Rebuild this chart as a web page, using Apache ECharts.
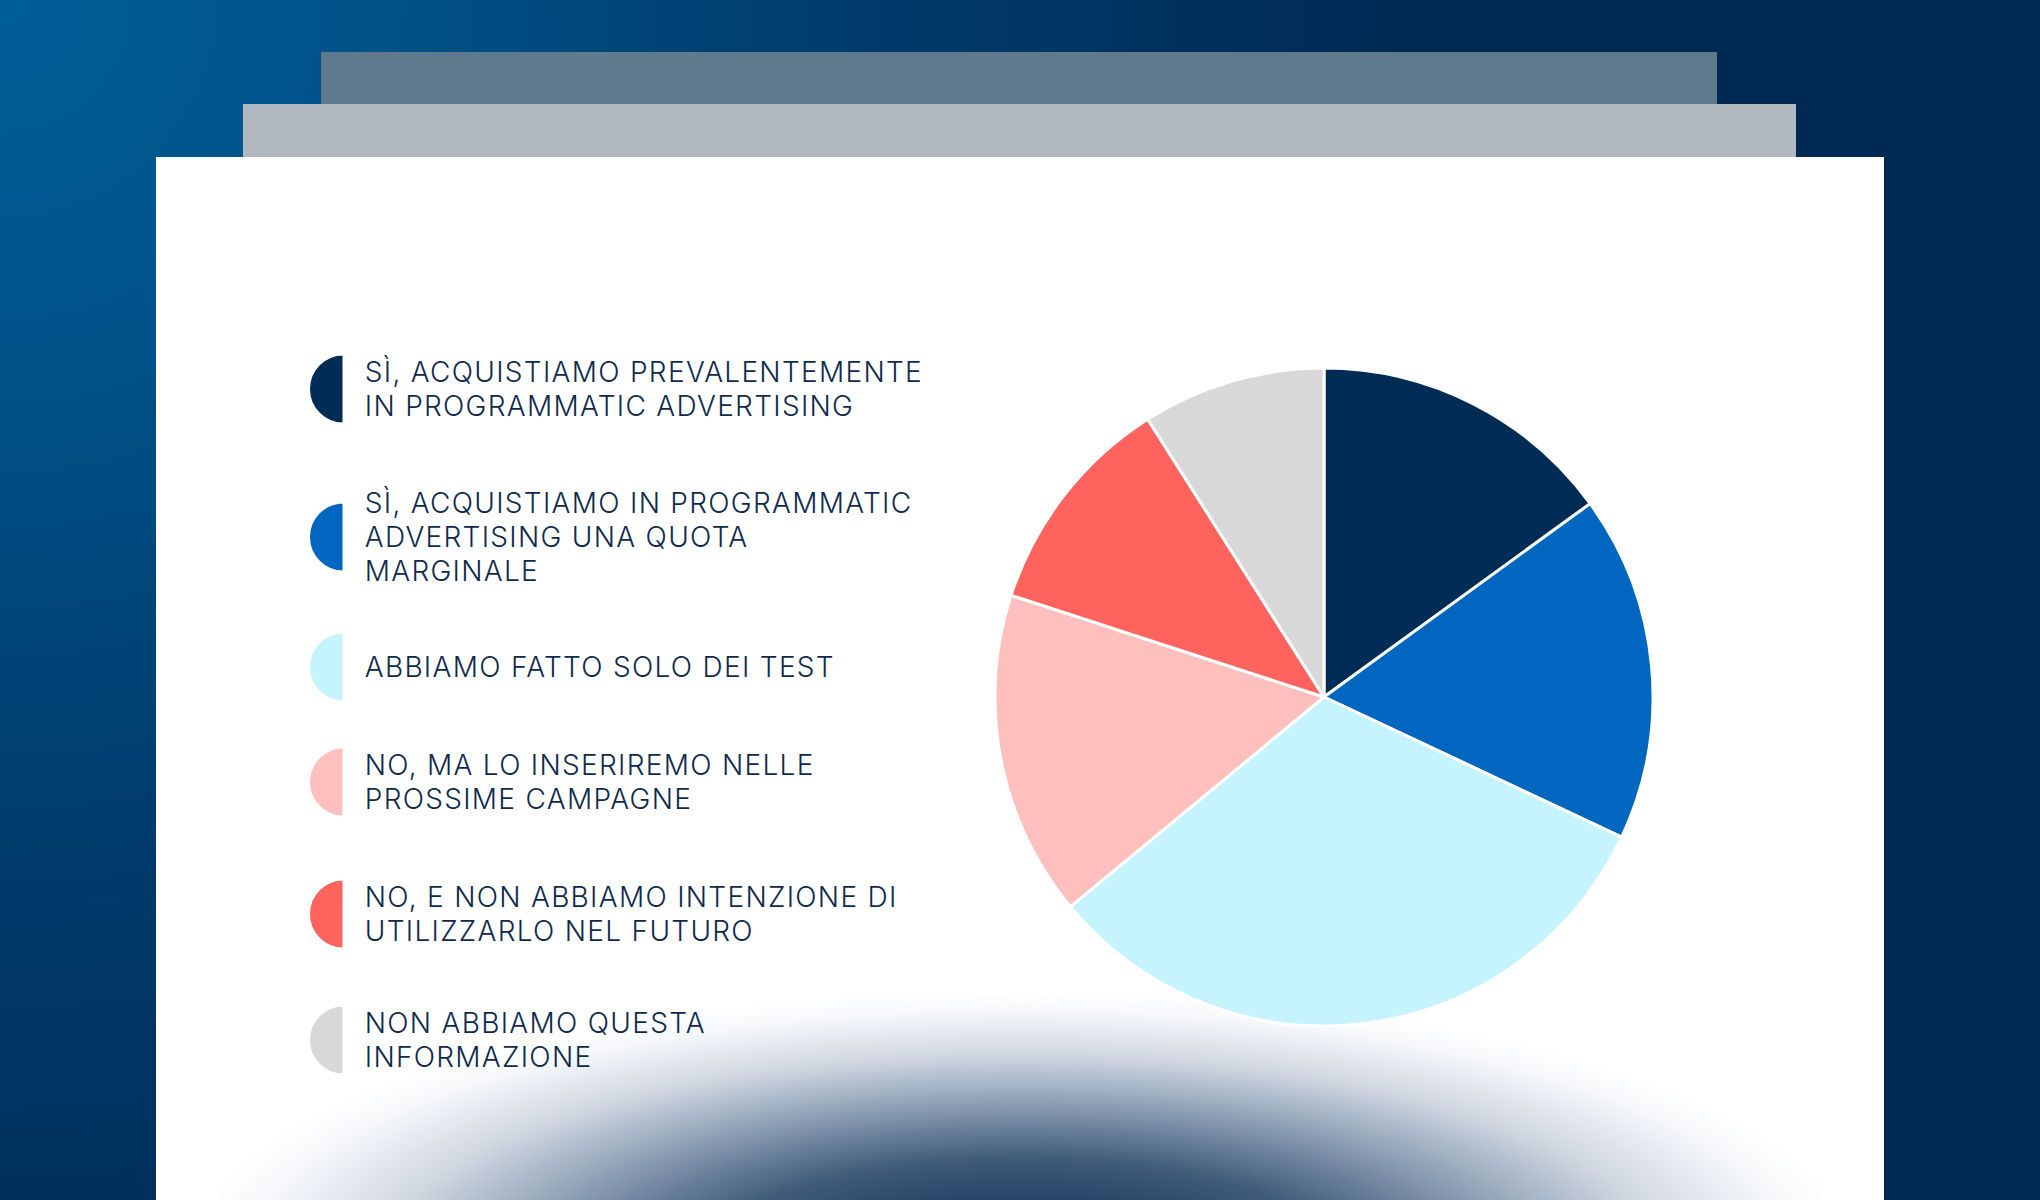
<!DOCTYPE html>
<html>
<head>
<meta charset="utf-8">
<script src="https://cdn.jsdelivr.net/npm/echarts/dist/echarts.min.js"></script>
<style>
  html, body { margin: 0; padding: 0; }
  body {
    width: 2040px; height: 1200px; overflow: hidden; position: relative;
    background: radial-gradient(circle 1400px at 0px 0px, #005e96 0%, #00558c 22%, #003d6e 58%, #002a54 100%);
  }
  .deco { position: absolute; }
  #r1 { left: 321px; top: 52px; width: 1396px; height: 52px; background: #5e7a8c; }
  #r2 { left: 243px; top: 104px; width: 1553px; height: 53px; background: #b1b8bf; }
  #card { left: 156px; top: 157px; width: 1728px; height: 1043px; background: #ffffff; }
  #shade {
    left: 221px; top: 980px; width: 1600px; height: 220px;
    background: radial-gradient(ellipse 840px 270px at 800px 280px,
      rgb(20,48,82) 0%, rgb(35,65,100) 20%, rgb(65,92,122) 38%, rgb(140,158,180) 58%,
      rgb(208,215,225) 76%, rgb(245,247,250) 92%, rgb(255,255,255) 100%);
  }
  #chart { position: absolute; left: 0; top: 0; width: 2040px; height: 1200px; }
  #chart text { letter-spacing: 1.3px; }
</style>
</head>
<body>
<div class="deco" id="r1"></div>
<div class="deco" id="r2"></div>
<div class="deco" id="card"></div>
<div class="deco" id="shade"></div>
<div id="chart"></div>
<script>
// ---- data ----
const categories = [
  'SÌ, ACQUISTIAMO PREVALENTEMENTE\nIN PROGRAMMATIC ADVERTISING',
  'SÌ, ACQUISTIAMO IN PROGRAMMATIC\nADVERTISING UNA QUOTA\nMARGINALE',
  'ABBIAMO FATTO SOLO DEI TEST',
  'NO, MA LO INSERIREMO NELLE\nPROSSIME CAMPAGNE',
  'NO, E NON ABBIAMO INTENZIONE DI\nUTILIZZARLO NEL FUTURO',
  'NON ABBIAMO QUESTA\nINFORMAZIONE'
];
const values = [15, 17, 32, 16, 11, 9];
const colors = ['#002c55', '#0066bf', '#c5f3fe', '#ffbfbd', '#fe635d', '#d8d8d8'];

// ---- layout ----
const legendCenters = [388, 537, 666, 781, 913, 1039];
const lineH = 34, iconW = 35, iconH = 69;
const halfCircle = 'path://M10,0A10,10,0,0,0,10,20Z';

const chart = echarts.init(document.getElementById('chart'), null, { renderer: 'svg', width: 2040, height: 1200 });

const legends = categories.map((name, i) => {
  const lines = name.split('\n').length;
  const h = Math.max(iconH, lines * lineH);
  return {
    data: [name],
    orient: 'vertical',
    left: 308,
    top: legendCenters[i] - h / 2,
    padding: 0,
    itemWidth: iconW,
    itemHeight: iconH,
    icon: halfCircle,
    selectedMode: false,
    textStyle: {
      color: '#0e2a4b',
      fontFamily: 'Inter, "DejaVu Sans", sans-serif',
      fontWeight: 300,
      fontSize: 28,
      lineHeight: lineH,
      padding: [0, 0, 0, 16]
    }
  };
});

chart.setOption({
  animation: false,
  backgroundColor: 'transparent',
  color: colors,
  legend: legends,
  series: [{
    type: 'pie',
    center: [1324, 697],
    radius: 329,
    startAngle: 90,
    clockwise: true,
    label: { show: false },
    labelLine: { show: false },
    emphasis: { disabled: true },
    itemStyle: { borderColor: '#ffffff', borderWidth: 3 },
    data: categories.map((name, i) => ({ name: name, value: values[i] }))
  }]
});
</script>
</body>
</html>
